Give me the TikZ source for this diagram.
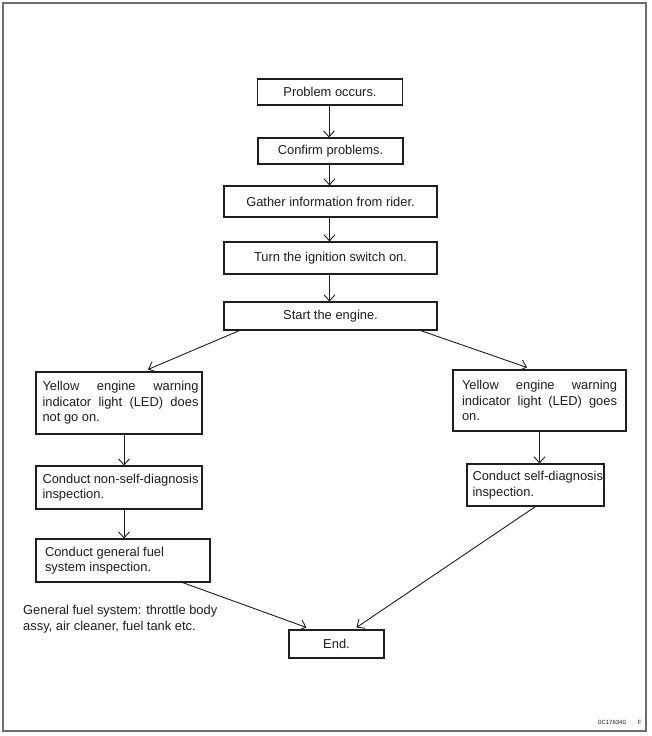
\documentclass[tikz,border=0pt]{standalone}
\usepackage{fontspec}
\setmainfont{Liberation Sans}
\usetikzlibrary{arrows.meta,calc}
\definecolor{ink}{RGB}{30,30,30}
\definecolor{framegray}{RGB}{110,110,110}
\newcommand{\bxt}[2]{\parbox{#1}{\raggedright #2}}
\newcommand{\jline}[2]{\makebox[#1][l]{#2}}
\begin{document}
\begin{tikzpicture}[x=1pt,y=-1pt,
  box/.style={draw=ink, line width=1.1pt, inner sep=0pt, text=ink,
              font=\fontsize{12.9}{15.5}\selectfont},
  arr/.style={draw=ink, line width=0.9pt,
              -{Straight Barb[length=6pt,width=11pt,line width=0.9pt]}},
  notetext/.style={inner sep=0pt, text=ink, font=\fontsize{12.9}{16.5}\selectfont}]
\useasboundingbox (0,0) rectangle (651,736);
\fill[white] (0,0) rectangle (651,736);
\draw[framegray, line width=1.5pt] (3,3) rectangle (646,731);

% main column
\node[box, minimum width=145pt, minimum height=26pt] (p1) at (330,92) {Problem occurs.};
\node[box, minimum width=145pt, minimum height=26pt] (p2) at (330.5,151) {Confirm problems.};
\node[box, minimum width=213pt, minimum height=31pt] (p3) at (330.5,201.5) {Gather information from rider.};
\node[box, minimum width=213pt, minimum height=32pt] (p4) at (330.5,258) {Turn the ignition switch on.};
\node[box, minimum width=213pt, minimum height=28pt] (p5) at (330.5,316) {Start the engine.};

% left branch
\node[box, minimum width=166pt, minimum height=62pt] (yl) at (119,403)
  {\hspace{3pt}\bxt{156pt}{\jline{156pt}{Yellow\hfill engine\hfill warning}\\
   \jline{156pt}{indicator\hfill light\hfill (LED)\hfill does}\\not go on.}};
\node[box, minimum width=166pt, minimum height=43pt] (ns) at (119,487.5)
  {\hspace{3pt}\bxt{156pt}{\jline{156pt}{Conduct\hfill non-self-diagnosis}\\inspection.}};
\node[box, minimum width=174pt, minimum height=43pt] (gf) at (123,560.5)
  {\bxt{156pt}{Conduct general fuel\\system inspection.}};

% right branch
\node[box, minimum width=173pt, minimum height=61pt] (yr) at (539.5,400.5)
  {\bxt{155pt}{\jline{155pt}{Yellow\hfill engine\hfill warning}\\
   \jline{155pt}{indicator\hfill light\hfill (LED)\hfill goes}\\on.}};
\node[box, minimum width=137pt, minimum height=42pt] (sd) at (535.5,485)
  {\hspace{5pt}\bxt{131pt}{Conduct self-diagnosis\\inspection.}};

% end
\node[box, minimum width=95pt, minimum height=28pt] (end) at (336.5,644) {End.};

% note
\node[notetext, anchor=west, align=left] (note) at (23,619)
  {General fuel system: throttle body\\assy, air cleaner, fuel tank etc.};

% code
\node[inner sep=0pt, text=ink, anchor=west, font=\fontsize{6}{7}\selectfont] (code) at (598,722)
  {0C176340\hspace{12pt}F};

% connectors
\draw[arr] ([xshift=-1pt]p1.south) -- ([xshift=-1pt]p1.south |- p2.north);
\draw[arr] ([xshift=-1pt]p2.south) -- ([xshift=-1pt]p2.south |- p3.north);
\draw[arr] ([xshift=-1pt]p3.south) -- ([xshift=-1pt]p3.south |- p4.north);
\draw[arr] ([xshift=-1pt]p4.south) -- ([xshift=-1pt]p4.south |- p5.north);
\draw[arr] ([xshift=16pt]p5.south west) -- ([xshift=29pt,yshift=2pt]yl.north);
\draw[arr] ([xshift=-17pt]p5.south east) -- ([xshift=-12.5pt,yshift=2pt]yr.north);
\draw[arr] ([xshift=5pt]yl.south) -- ([xshift=5pt]yl.south |- ns.north);
\draw[arr] ([xshift=5pt]ns.south) -- ([xshift=5pt]ns.south |- gf.north);
\draw[arr] (yr.south) -- (yr.south |- sd.north);
\draw[arr] ([xshift=-28pt]gf.south east) -- ([xshift=18pt,yshift=2pt]end.north west);
\draw[arr] (sd.south) -- ([xshift=68pt,yshift=2pt]end.north west);
\end{tikzpicture}
\end{document}
